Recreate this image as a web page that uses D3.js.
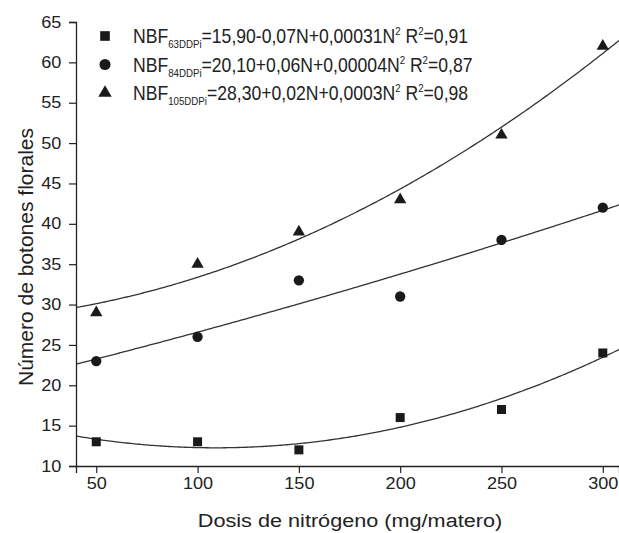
<!DOCTYPE html>
<html>
<head>
<meta charset="utf-8">
<script src="https://cdn.jsdelivr.net/npm/d3@7/dist/d3.min.js"></script>
<style>
  body { margin: 0; background: #fff; }
  text { font-family: "Liberation Sans", Arial, sans-serif; fill: #222; }
</style>
</head>
<body>
<div id="chart"></div>
<script>
// data
const doses = [50, 100, 150, 200, 250, 300]
const nbf63 = [13, 13, 12, 16, 17, 24]
const nbf84 = [23, 26, 33, 31, 38, 42]
const nbf105 = [29, 35, 39, 43, 51, 62]
const xTicks = [50, 100, 150, 200, 250, 300]
const yTicks = [10, 15, 20, 25, 30, 35, 40, 45, 50, 55, 60, 65]
const legendSub = ["63DDPi", "84DDPi", "105DDPi"]
const legendEq = ["=15,90-0,07N+0,00031N", "=20,10+0,06N+0,00004N", "=28,30+0,02N+0,0003N"]
const legendR2 = ["=0,91", "=0,87", "=0,98"]

const width = 619, height = 533
const svg = d3.select("#chart").append("svg")
    .attr("width", width)
    .attr("height", height)

const x = d3.scaleLinear().domain([40, 308]).range([76, 619])
const y = d3.scaleLinear().domain([10, 65]).range([466, 22])

// quadratic least squares, same model as the equations in the legend
function quadFit(xs, ys) {
    const s = [0, 0, 0, 0, 0], t = [0, 0, 0]
    xs.forEach((xi, i) => {
        for (let k = 0; k < 5; k++) s[k] += Math.pow(xi, k)
        for (let k = 0; k < 3; k++) t[k] += ys[i] * Math.pow(xi, k)
    })
    const m = [[s[0], s[1], s[2], t[0]], [s[1], s[2], s[3], t[1]], [s[2], s[3], s[4], t[2]]]
    for (let i = 0; i < 3; i++) {
        for (let j = i + 1; j < 3; j++) {
            const f = m[j][i] / m[i][i]
            for (let k = i; k < 4; k++) m[j][k] -= f * m[i][k]
        }
    }
    const c = [0, 0, 0]
    for (let i = 2; i >= 0; i--) {
        let v = m[i][3]
        for (let k = i + 1; k < 3; k++) v -= m[i][k] * c[k]
        c[i] = v / m[i][i]
    }
    return n => c[0] + c[1] * n + c[2] * n * n
}

svg.append("clipPath").attr("id", "plot")
    .append("rect").attr("x", 76).attr("y", 22).attr("width", 543).attr("height", 444)

const series = [
    { values: nbf63, symbol: d3.symbolSquare, size: 81 },
    { values: nbf84, symbol: d3.symbolCircle, size: 84 },
    { values: nbf105, symbol: d3.symbolTriangle, size: 66 }
]

const line = d3.line().x(d => x(d[0])).y(d => y(d[1]))
const grid = d3.range(x.domain()[0], x.domain()[1] + 0.5, 1)

series.forEach(s => {
    const f = quadFit(doses, s.values)
    svg.append("path")
        .attr("clip-path", "url(#plot)")
        .attr("d", line(grid.map(n => [n, f(n)])))
        .attr("fill", "none")
        .attr("stroke", "#333")
        .attr("stroke-width", 1.3)

    svg.selectAll(null).data(doses).enter().append("path")
        .attr("transform", (d, i) => "translate(" + x(d) + "," + y(s.values[i]) + ")")
        .attr("d", d3.symbol().type(s.symbol).size(s.size))
        .attr("fill", "#1a1a1a")
})

// axes
const xMinor = [75, 125, 175, 225, 275]
const yMinor = d3.range(12.5, 65, 5)

const gx = svg.append("g").attr("transform", "translate(0,466)")
gx.call(d3.axisBottom(x).tickValues(xMinor).tickSize(4).tickFormat(""))
gx.call(d3.axisBottom(x).tickValues(xTicks).tickSize(7).tickPadding(5))
gx.selectAll(".domain").attr("stroke", "#222").attr("stroke-width", 1.3)
gx.selectAll("line").attr("stroke", "#222").attr("stroke-width", 1.2)
gx.selectAll("text").style("font-size", "16px").attr("fill", "#222")
    .attr("transform", "scale(1.13,1)")

const gy = svg.append("g").attr("transform", "translate(76,0)")
gy.call(d3.axisLeft(y).tickValues(yMinor).tickSize(4).tickFormat(""))
gy.call(d3.axisLeft(y).tickValues(yTicks).tickSize(7).tickPadding(6))
gy.selectAll(".domain").attr("stroke", "#222").attr("stroke-width", 1.3)
gy.selectAll("line").attr("stroke", "#222").attr("stroke-width", 1.2)
gy.selectAll("text").style("font-size", "16px").attr("fill", "#222")
    .attr("transform", "scale(1.13,1)")

svg.append("text")
    .attr("transform", "translate(350,527) scale(1.14,1)")
    .attr("text-anchor", "middle")
    .style("font-size", "19px")
    .text("Dosis de nitrógeno (mg/matero)")

svg.append("text")
    .attr("transform", "translate(33,257) rotate(-90)")
    .attr("text-anchor", "middle")
    .style("font-size", "21px")
    .text("Número de botones florales")

// legend
series.forEach((s, i) => {
    const by = 43 + i * 28.5
    svg.append("path")
        .attr("transform", "translate(105," + (by - 7) + ")")
        .attr("d", d3.symbol().type(s.symbol).size(s.size + 12))
        .attr("fill", "#1a1a1a")
    const t = svg.append("text")
        .attr("transform", "translate(133," + by + ") scale(0.88,1)")
        .style("font-size", "20px")
    t.append("tspan").text("NBF")
    t.append("tspan").attr("dy", 5).style("font-size", "11px").text(legendSub[i])
    t.append("tspan").attr("dy", -5).text(legendEq[i])
    t.append("tspan").attr("dy", -8).style("font-size", "11px").text("2")
    t.append("tspan").attr("dy", 8).text(" R")
    t.append("tspan").attr("dy", -8).style("font-size", "11px").text("2")
    t.append("tspan").attr("dy", 8).text(legendR2[i])
})
</script>
</body>
</html>
